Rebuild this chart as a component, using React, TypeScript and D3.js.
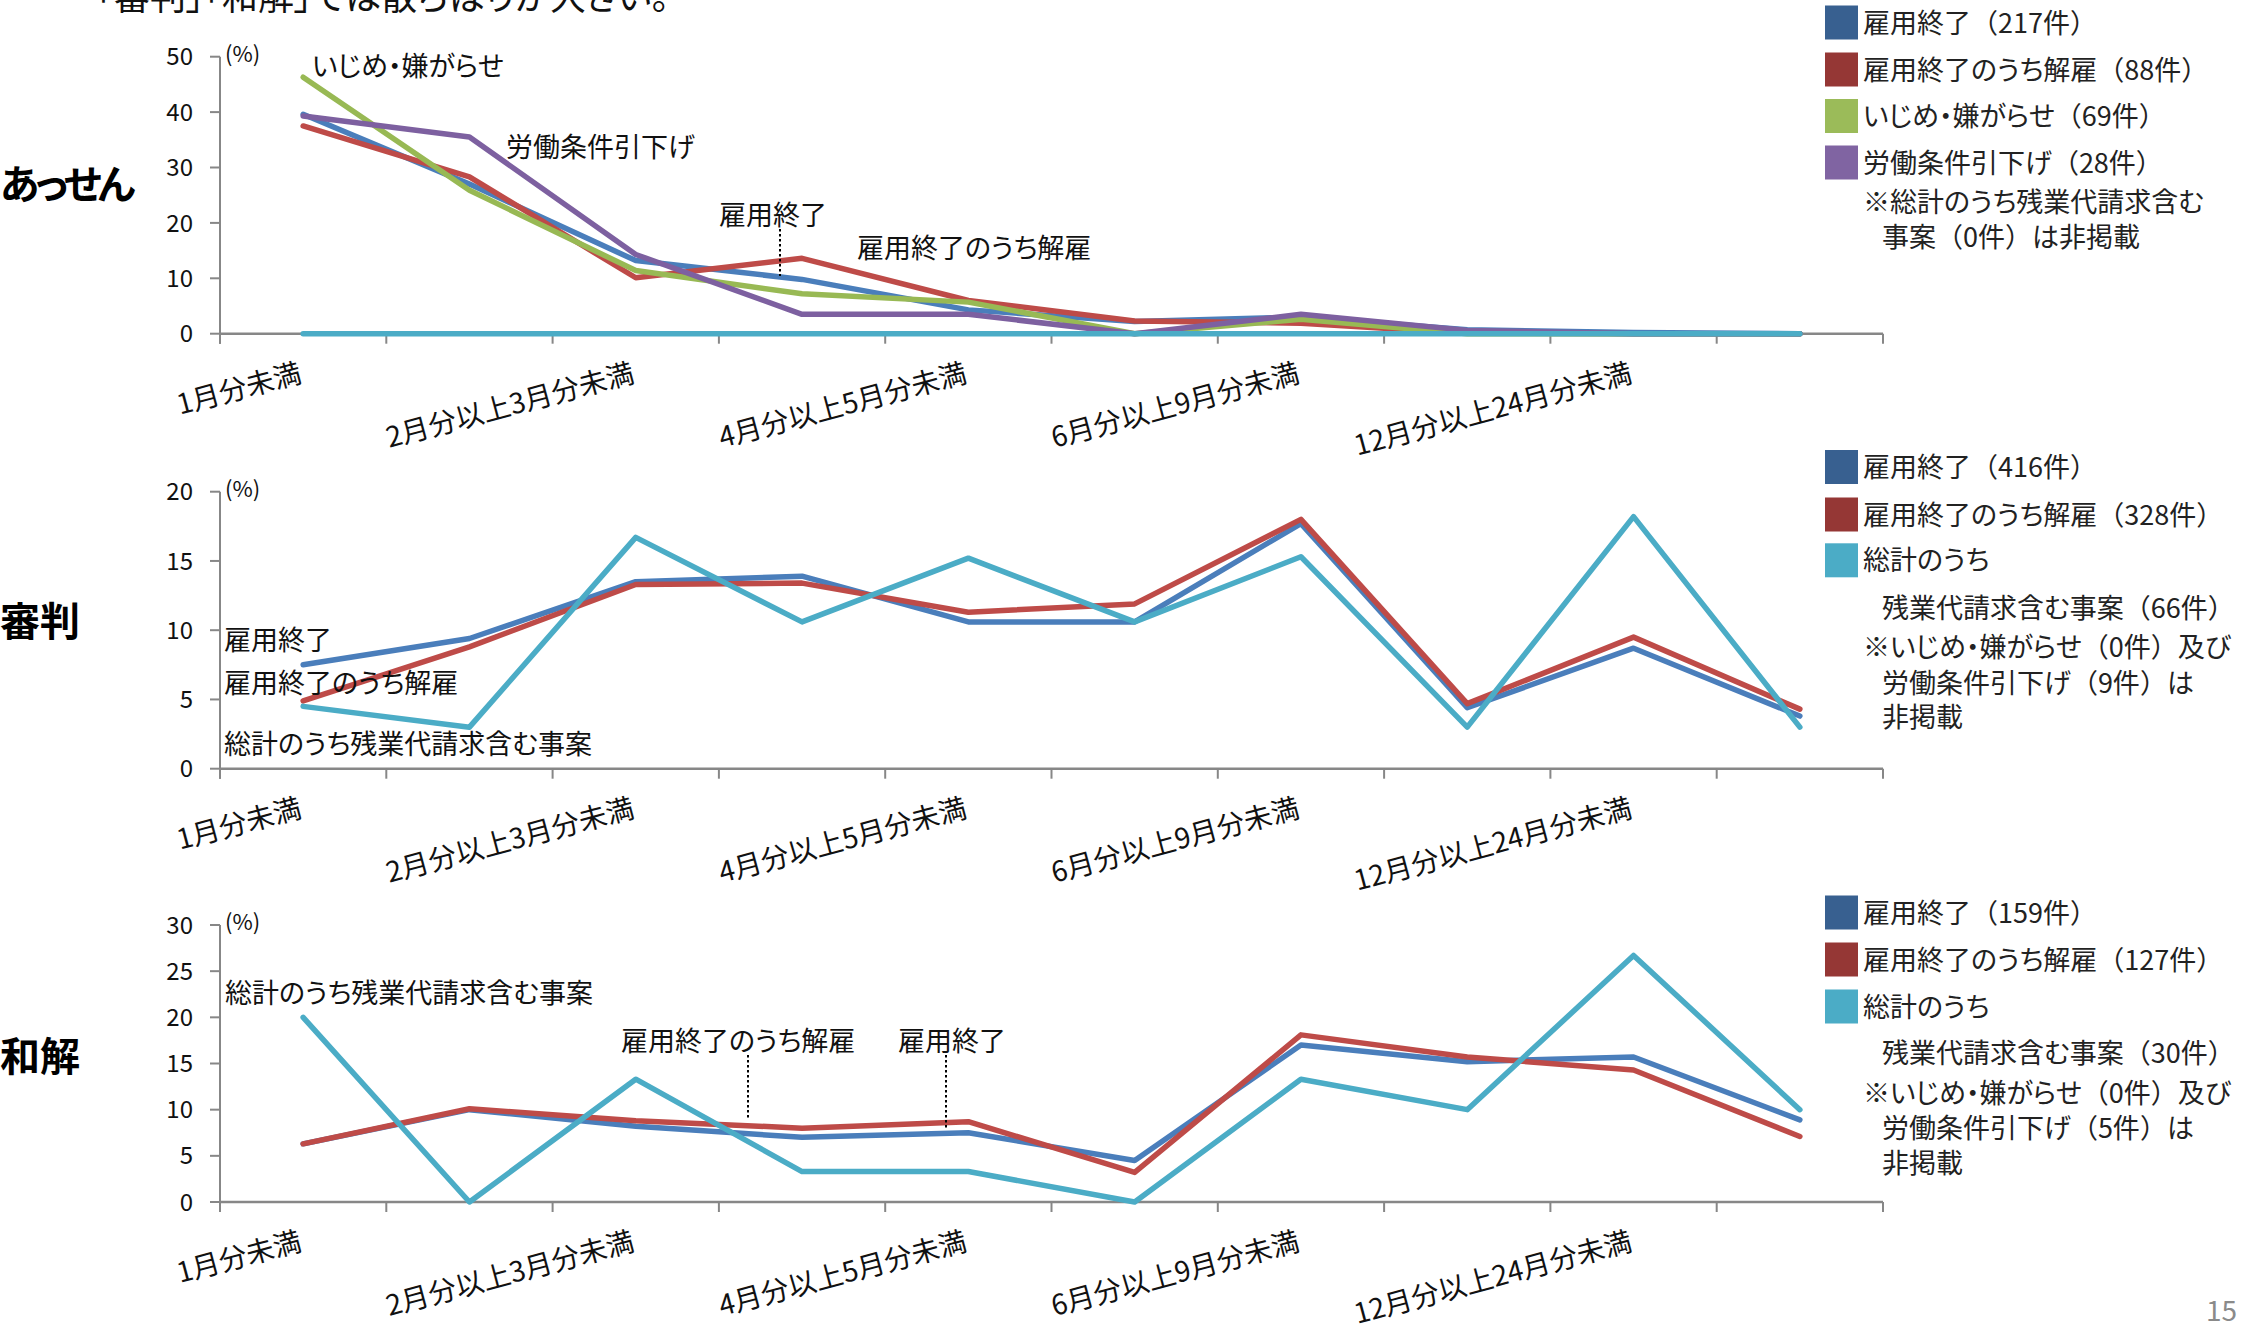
import React from 'react';
import * as d3 from 'd3';

// 期間区分（横軸）
const categories = [
  '1月分未満',
  '1月分以上2月分未満',
  '2月分以上3月分未満',
  '3月分以上4月分未満',
  '4月分以上5月分未満',
  '5月分以上6月分未満',
  '6月分以上9月分未満',
  '9月分以上12月分未満',
  '12月分以上24月分未満',
  '24月分以上',
];

// あっせん（%）
const assenKoyo = [39.6, 27.0, 13.2, 9.8, 4.3, 2.2, 3.0, 0.7, 0.2, 0];
const assenKaiko = [37.5, 28.3, 10.1, 13.6, 6.0, 2.3, 1.9, 0.1, 0, 0];
const assenIjime = [46.3, 25.9, 11.4, 7.2, 5.7, 0, 2.6, 0, 0, 0];
const assenRodo = [39.3, 35.5, 14.3, 3.5, 3.5, 0, 3.5, 0.6, 0, 0];
const assenZangyo = [0, 0, 0, 0, 0, 0, 0, 0, 0, 0];
const assenCounts = [217, 88, 69, 28];

// 審判（%）
const shinpanKoyo = [7.5, 9.4, 13.5, 13.9, 10.6, 10.6, 17.7, 4.4, 8.7, 3.8];
const shinpanKaiko = [4.9, 8.8, 13.3, 13.4, 11.3, 11.9, 18.0, 4.7, 9.5, 4.3];
const shinpanZangyo = [4.5, 3.0, 16.7, 10.6, 15.2, 10.6, 15.3, 3.0, 18.2, 3.0];
const shinpanCounts = [416, 328, 66];

// 和解（%）
const wakaiKoyo = [6.3, 10.0, 8.2, 7.0, 7.5, 4.5, 17.0, 15.2, 15.7, 8.9];
const wakaiKaiko = [6.3, 10.1, 8.8, 8.0, 8.7, 3.2, 18.1, 15.7, 14.3, 7.1];
const wakaiZangyo = [20.0, 0, 13.3, 3.3, 3.3, 0, 13.3, 10.0, 26.7, 10.0];
const wakaiCounts = [159, 127, 30];

const assenTicks = [0, 10, 20, 30, 40, 50];
const shinpanTicks = [0, 5, 10, 15, 20];
const wakaiTicks = [0, 5, 10, 15, 20, 25, 30];

const FONT = "'Noto Sans CJK JP', 'Noto Sans', sans-serif";
const PALT = { fontFeatureSettings: '"palt"' };
const AXIS = '#878787';
const X0 = 220;
const X1 = 1883;
const PH = 277;

const LINE = {
  koyo: '#4A7EBB',
  kaiko: '#BE4B48',
  ijime: '#98B954',
  rodo: '#7D60A0',
  zangyo: '#4BACC6',
};
const SWATCH = {
  koyo: '#386090',
  kaiko: '#953735',
  ijime: '#9BBB59',
  rodo: '#8064A2',
  zangyo: '#4BACC6',
};

const x = d3.scaleBand<string>().domain(categories).range([X0, X1]).padding(0);
const cx = (i: number) => (x(categories[i]) as number) + x.bandwidth() / 2;

type Series = { values: number[]; color: string };
type Note = { text: string; x: number; y: number };
type Leader = { x: number; y1: number; y2: number };

function Panel(props: {
  top: number;
  ticks: number[];
  series: Series[];
  notes: Note[];
  leaders: Leader[];
}) {
  const { top, ticks, series, notes, leaders } = props;
  const y = d3
    .scaleLinear()
    .domain([0, ticks[ticks.length - 1]])
    .range([top + PH, top]);
  const zeroY = y(0);
  const bounds = categories.map((c) => x(c) as number).concat([X1]);
  const line = d3
    .line<number>()
    .x((_, i) => cx(i))
    .y((d) => y(d));

  return (
    <g>
      {/* y axis */}
      <line x1={X0} x2={X0} y1={top} y2={zeroY + 10} stroke={AXIS} strokeWidth={2} />
      {ticks.map((t) => (
        <g key={t}>
          <line x1={X0 - 10} x2={X0} y1={y(t)} y2={y(t)} stroke={AXIS} strokeWidth={2} />
          <text x={193} y={y(t)} dy="0.36em" textAnchor="end" fontSize={24} fill="#111">
            {t}
          </text>
        </g>
      ))}
      <text x={225} y={top + 5} fontSize={22} fill="#111">
        (%)
      </text>
      {/* x axis */}
      <line x1={X0} x2={X1} y1={zeroY} y2={zeroY} stroke={AXIS} strokeWidth={2.5} />
      {bounds.map((b, i) => (
        <line key={i} x1={b} x2={b} y1={zeroY} y2={zeroY + 10} stroke={AXIS} strokeWidth={2} />
      ))}
      {categories.map((c, i) =>
        i % 2 === 0 ? (
          <text
            key={c}
            transform={`translate(${cx(i)},${zeroY + 48}) rotate(-15)`}
            textAnchor="end"
            fontSize={28}
            fill="#111"
            style={PALT}
          >
            {c}
          </text>
        ) : null
      )}
      {/* series */}
      {series.map((s, i) => (
        <path
          key={i}
          d={line(s.values) as string}
          fill="none"
          stroke={s.color}
          strokeWidth={5.5}
          strokeLinejoin="round"
          strokeLinecap="round"
        />
      ))}
      {/* labels */}
      {leaders.map((l, i) => (
        <line
          key={i}
          x1={l.x}
          x2={l.x}
          y1={l.y1}
          y2={l.y2}
          stroke="#000"
          strokeWidth={2}
          strokeDasharray="2.5,2.5"
        />
      ))}
      {notes.map((n, i) => (
        <text key={i} x={n.x} y={n.y} fontSize={27} fill="#111" style={PALT}>
          {n.text}
        </text>
      ))}
    </g>
  );
}

// 全角括弧だけは等幅のまま、他は詰め組みで表示する
function runs(text: string) {
  return text
    .split(/([（）])/)
    .filter((s) => s.length > 0)
    .map((s, i) =>
      s === '（' || s === '）' ? (
        <tspan key={i} style={{ fontFeatureSettings: 'normal' }}>
          {s}
        </tspan>
      ) : (
        <tspan key={i}>{s}</tspan>
      )
    );
}

type LegendRow = { text: string; color?: string; x: number; cy: number };

function Legend({ rows }: { rows: LegendRow[] }) {
  return (
    <g>
      {rows.map((r, i) => (
        <g key={i}>
          {r.color ? <rect x={1825} y={r.cy - 17} width={33} height={34} fill={r.color} /> : null}
          <text x={r.x} y={r.cy + 10} fontSize={27} fill="#222" style={PALT}>
            {runs(r.text)}
          </text>
        </g>
      ))}
    </g>
  );
}

export default function App() {
  const tops = [56.7, 491.7, 925];

  const assenLegend: LegendRow[] = [
    { text: `雇用終了（${assenCounts[0]}件）`, color: SWATCH.koyo, x: 1863, cy: 22.5 },
    { text: `雇用終了のうち解雇（${assenCounts[1]}件）`, color: SWATCH.kaiko, x: 1863, cy: 69.5 },
    { text: `いじめ・嫌がらせ（${assenCounts[2]}件）`, color: SWATCH.ijime, x: 1863, cy: 116 },
    { text: `労働条件引下げ（${assenCounts[3]}件）`, color: SWATCH.rodo, x: 1863, cy: 162.5 },
    { text: '※総計のうち残業代請求含む', x: 1863, cy: 201.7 },
    { text: '事案（0件）は非掲載', x: 1882, cy: 236.7 },
  ];
  const shinpanLegend: LegendRow[] = [
    { text: `雇用終了（${shinpanCounts[0]}件）`, color: SWATCH.koyo, x: 1863, cy: 467 },
    { text: `雇用終了のうち解雇（${shinpanCounts[1]}件）`, color: SWATCH.kaiko, x: 1863, cy: 514.5 },
    { text: '総計のうち', color: SWATCH.zangyo, x: 1863, cy: 560.3 },
    { text: `残業代請求含む事案（${shinpanCounts[2]}件）`, x: 1882, cy: 607.5 },
    { text: '※いじめ・嫌がらせ（0件）及び', x: 1863, cy: 646.7 },
    { text: '労働条件引下げ（9件）は', x: 1882, cy: 682.5 },
    { text: '非掲載', x: 1882, cy: 716.7 },
  ];
  const wakaiLegend: LegendRow[] = [
    { text: `雇用終了（${wakaiCounts[0]}件）`, color: SWATCH.koyo, x: 1863, cy: 912.5 },
    { text: `雇用終了のうち解雇（${wakaiCounts[1]}件）`, color: SWATCH.kaiko, x: 1863, cy: 959.5 },
    { text: '総計のうち', color: SWATCH.zangyo, x: 1863, cy: 1006.5 },
    { text: `残業代請求含む事案（${wakaiCounts[2]}件）`, x: 1882, cy: 1052.5 },
    { text: '※いじめ・嫌がらせ（0件）及び', x: 1863, cy: 1092.5 },
    { text: '労働条件引下げ（5件）は', x: 1882, cy: 1127.5 },
    { text: '非掲載', x: 1882, cy: 1163 },
  ];

  return (
    <svg
      width={2241}
      height={1328}
      viewBox="0 0 2241 1328"
      style={{ position: 'absolute', left: 0, top: 0, background: '#fff', fontFamily: FONT }}
    >
      <rect width={2241} height={1328} fill="#fff" />
      <text x={96} y={10} fontSize={36} fill="#111" style={PALT}>
        「審判」「和解」では散らばりが大きい。
      </text>

      <text
        x={0}
        y={199}
        fontSize={40}
        fontWeight={700}
        fill="#000"
        letterSpacing={-4}
        style={PALT}
      >
        あっせん
      </text>
      <text x={0} y={636} fontSize={40} fontWeight={700} fill="#000" style={PALT}>
        審判
      </text>
      <text x={0} y={1071} fontSize={40} fontWeight={700} fill="#000" style={PALT}>
        和解
      </text>

      <Panel
        top={tops[0]}
        ticks={assenTicks}
        series={[
          { values: assenKoyo, color: LINE.koyo },
          { values: assenKaiko, color: LINE.kaiko },
          { values: assenIjime, color: LINE.ijime },
          { values: assenRodo, color: LINE.rodo },
          { values: assenZangyo, color: LINE.zangyo },
        ]}
        notes={[
          { text: 'いじめ・嫌がらせ', x: 312, y: 76 },
          { text: '労働条件引下げ', x: 506, y: 157 },
          { text: '雇用終了', x: 719, y: 225 },
          { text: '雇用終了のうち解雇', x: 857, y: 258 },
        ]}
        leaders={[{ x: 780, y1: 229, y2: 276 }]}
      />
      <Panel
        top={tops[1]}
        ticks={shinpanTicks}
        series={[
          { values: shinpanKoyo, color: LINE.koyo },
          { values: shinpanKaiko, color: LINE.kaiko },
          { values: shinpanZangyo, color: LINE.zangyo },
        ]}
        notes={[
          { text: '雇用終了', x: 224, y: 650 },
          { text: '雇用終了のうち解雇', x: 224, y: 693 },
          { text: '総計のうち残業代請求含む事案', x: 224, y: 754 },
        ]}
        leaders={[]}
      />
      <Panel
        top={tops[2]}
        ticks={wakaiTicks}
        series={[
          { values: wakaiKoyo, color: LINE.koyo },
          { values: wakaiKaiko, color: LINE.kaiko },
          { values: wakaiZangyo, color: LINE.zangyo },
        ]}
        notes={[
          { text: '総計のうち残業代請求含む事案', x: 225, y: 1003 },
          { text: '雇用終了のうち解雇', x: 621, y: 1051 },
          { text: '雇用終了', x: 898, y: 1051 },
        ]}
        leaders={[
          { x: 748, y1: 1055, y2: 1120 },
          { x: 946, y1: 1055, y2: 1130 },
        ]}
      />

      <Legend rows={assenLegend} />
      <Legend rows={shinpanLegend} />
      <Legend rows={wakaiLegend} />

      <text x={2237} y={1321} textAnchor="end" fontSize={28} fill="#8a8a8a">
        15
      </text>
    </svg>
  );
}
